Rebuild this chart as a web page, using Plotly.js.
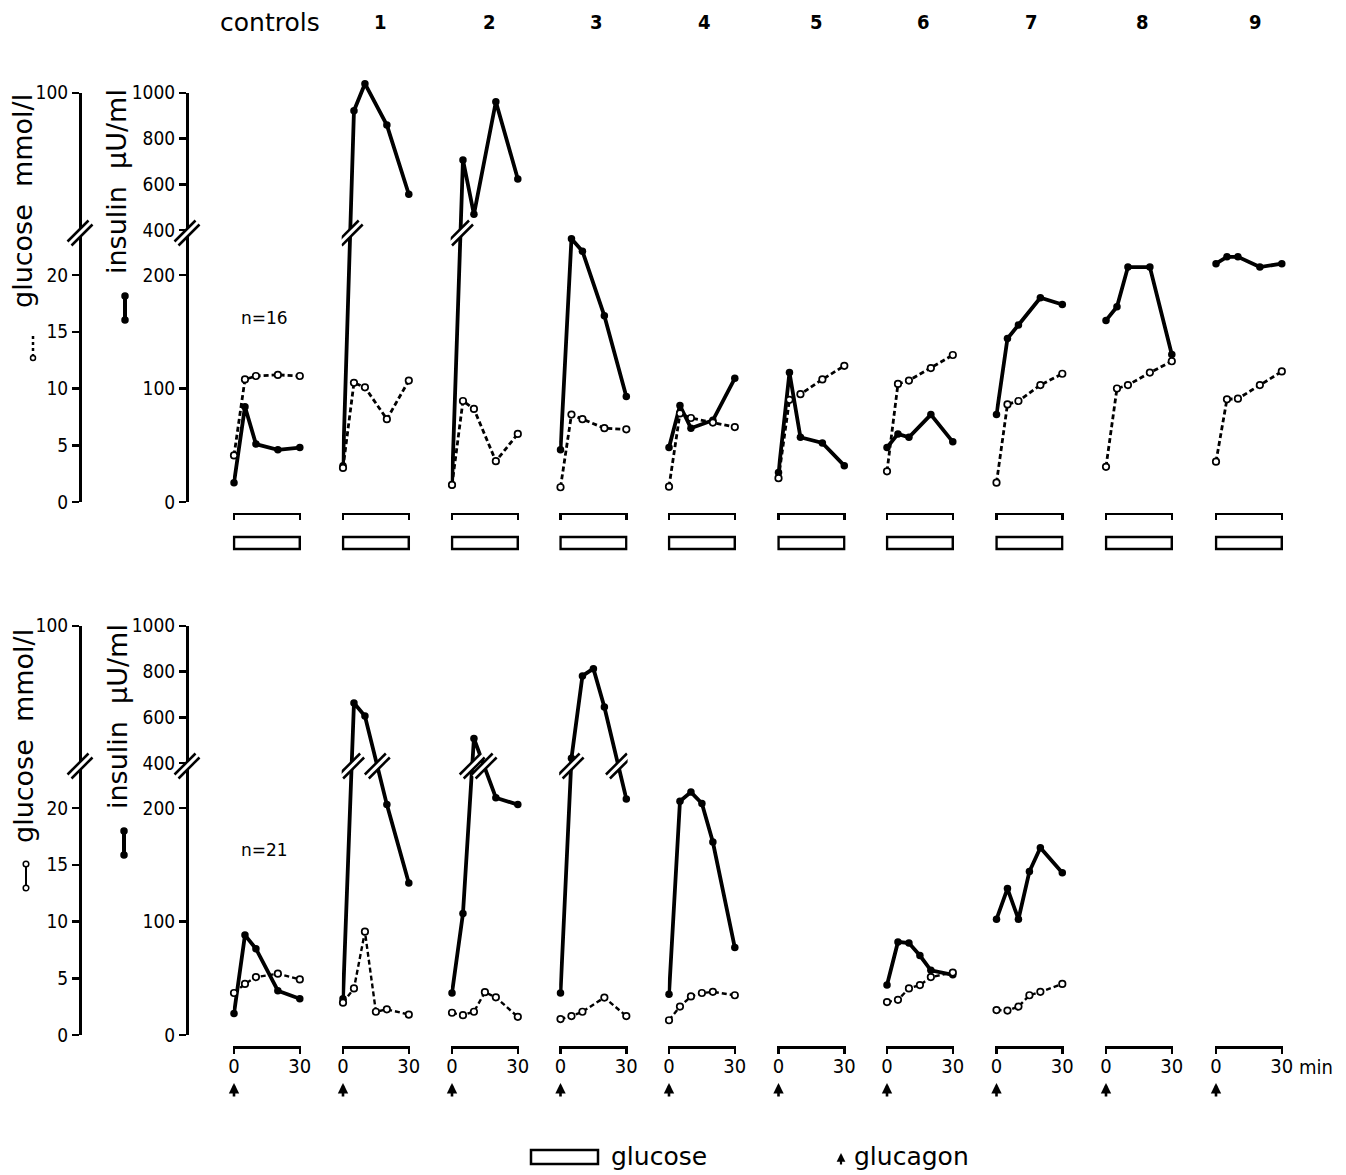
<!DOCTYPE html>
<html>
<head>
<meta charset="utf-8">
<script src="https://cdn.plot.ly/plotly-3.0.1.min.js"></script>
<style>html,body{margin:0;padding:0;background:#fff;}#chart{width:1346px;height:1175px;}</style>
</head>
<body>
<div id="chart"></div>
<script>
// ---------------- labels ----------------
const columnLabels = ['controls', '1', '2', '3', '4', '5', '6', '7', '8', '9'];
const xTickVals = [0, 30];
const xTickText = ['0', '30'];
const insulinTickVals = [0, 100, 200, 400, 600, 800, 1000];
const glucoseTickVals = [0, 5, 10, 15, 20, 100];
const groupSizes = ['n=16', 'n=21'];

// ---------------- upper panel: glucose infusion (n=16) ----------------
const upperTime = [0, 5, 10, 20, 30];
const upperInsulinControls = [17, 84, 51, 46, 48];
const upperInsulin1 = [32, 922, 1040, 859, 557];
const upperInsulin2 = [15, 707, 469, 961, 624];
const upperInsulin3 = [46, 232, 221, 164, 93];
const upperInsulin4 = [48, 85, 65, 72, 109];
const upperInsulin5 = [26, 114, 57, 52, 32];
const upperInsulin6 = [48, 60, 57, 77, 53];
const upperInsulin7 = [77, 144, 156, 180, 174];
const upperInsulin8 = [160, 172, 207, 207, 130];
const upperInsulin9 = [210, 216, 216, 207, 210];

const upperGlucoseControls = [4.1, 10.8, 11.1, 11.2, 11.1];
const upperGlucose1 = [3.0, 10.5, 10.1, 7.3, 10.7];
const upperGlucose2 = [1.5, 8.9, 8.2, 3.6, 6.0];
const upperGlucose3 = [1.3, 7.7, 7.3, 6.5, 6.4];
const upperGlucose4 = [1.35, 7.8, 7.4, 7.0, 6.6];
const upperGlucose5 = [2.1, 9.0, 9.5, 10.8, 12.0];
const upperGlucose6 = [2.7, 10.4, 10.7, 11.8, 12.95];
const upperGlucose7 = [1.7, 8.6, 8.9, 10.3, 11.3];
const upperGlucose8 = [3.1, 10.0, 10.3, 11.4, 12.4];
const upperGlucose9 = [3.55, 9.05, 9.1, 10.3, 11.5];

// ---------------- lower panel: glucagon (n=21) ----------------
const timeA = [0, 5, 10, 20, 30];
const timeB = [0, 5, 10, 15, 20, 30];
const noTime = [];
const noValues = [];

const lowerInsulinControls = [19, 88, 76, 39, 32];
const lowerInsulin1 = [32, 663, 606, 203, 134];
const lowerInsulin2 = [37, 107, 508, 209, 203];
const lowerInsulin3 = [37, 422, 781, 813, 645, 208];
const lowerInsulin4 = [36, 206, 214, 204, 170, 77];
const lowerInsulin6 = [44, 82, 81, 70, 57, 53];
const lowerInsulin7 = [102, 129, 102, 144, 165, 143];

const lowerGlucoseControls = [3.7, 4.5, 5.1, 5.4, 4.9];
const lowerGlucose1 = [2.85, 4.1, 9.1, 2.05, 2.26, 1.8];
const lowerGlucose2 = [1.96, 1.75, 2.05, 3.77, 3.32, 1.6];
const lowerGlucose3 = [1.4, 1.67, 2.05, 3.3, 1.67];
const lowerGlucose4 = [1.3, 2.5, 3.4, 3.7, 3.8, 3.5];
const lowerGlucose6 = [2.9, 3.1, 4.1, 4.4, 5.1, 5.5];
const lowerGlucose7 = [2.2, 2.15, 2.5, 3.5, 3.8, 4.5];

// ---------------- tables built from the arrays ----------------
const upperInsulin = [upperInsulinControls, upperInsulin1, upperInsulin2, upperInsulin3, upperInsulin4,
  upperInsulin5, upperInsulin6, upperInsulin7, upperInsulin8, upperInsulin9];
const upperGlucose = [upperGlucoseControls, upperGlucose1, upperGlucose2, upperGlucose3, upperGlucose4,
  upperGlucose5, upperGlucose6, upperGlucose7, upperGlucose8, upperGlucose9];
const lowerInsulin = [lowerInsulinControls, lowerInsulin1, lowerInsulin2, lowerInsulin3, lowerInsulin4,
  noValues, lowerInsulin6, lowerInsulin7, noValues, noValues];
const lowerInsulinTime = [timeA, timeA, timeA, timeB, timeB, noTime, timeB, timeB, noTime, noTime];
const lowerGlucose = [lowerGlucoseControls, lowerGlucose1, lowerGlucose2, lowerGlucose3, lowerGlucose4,
  noValues, lowerGlucose6, lowerGlucose7, noValues, noValues];
const lowerGlucoseTime = [timeA, timeB, timeB, timeA, timeB, noTime, timeB, timeB, noTime, noTime];

const rows = [
  {insulin: upperInsulin, insulinTime: upperInsulin.map(() => upperTime),
   glucose: upperGlucose, glucoseTime: upperGlucose.map(() => upperTime)},
  {insulin: lowerInsulin, insulinTime: lowerInsulinTime,
   glucose: lowerGlucose, glucoseTime: lowerGlucoseTime}
];

// ---------------- geometry / style ----------------
const W = 1346, H = 1175;
const fx = p => p / W;
const fy = p => (H - p) / H;
const NARROW = '"Liberation Sans Narrow", "DejaVu Sans Condensed", "Liberation Sans", sans-serif';
const WIDE = '"DejaVu Sans", "Liberation Sans", sans-serif';
const BLACK = '#000';

// broken insulin axis: linear 0..236, compressed gap, then 400..1000 at reduced scale
const UPPER_SLOPE = (360.5 - 239.5) / 600;
function disp(v) {
  if (v <= 236) return v;
  if (v < 400) return 236 + (v - 236) / 164 * 3.5;
  return 239.5 + (v - 400) * UPPER_SLOPE;
}
const BREAK_LEVEL = 237;
const PX_PER_UNIT = 1.135;
const rowBase = [502, 1035];          // pixel of value 0
const rowBracket = [513.5, 1047];     // pixel of time axis
const colX0 = [234, 343, 452, 560.5, 669, 778.5, 887, 996.5, 1106, 1216];
const PX_PER_MIN = 65.8 / 30;
const X_RANGE = [-0.6, 30.6];

const yIds = [{data: 'y', ins: 'y2', glu: 'y3'}, {data: 'y4', ins: 'y5', glu: 'y6'}];
const axKey = id => id.replace(/^([xy])/, '$1axis').replace(/axis1$/, 'axis');
const xId = (r, c) => { const n = r * 10 + c + 1; return n === 1 ? 'x' : 'x' + n; };

const layout = {
  width: W, height: H,
  margin: {l: 0, r: 0, t: 0, b: 0},
  paper_bgcolor: '#fff', plot_bgcolor: 'rgba(0,0,0,0)',
  showlegend: false,
  font: {family: NARROW, color: BLACK},
  shapes: [], annotations: []
};

// y axes
rows.forEach((row, r) => {
  const base = rowBase[r];
  const ids = yIds[r];
  layout[axKey(ids.data)] = {
    domain: [fy(base + 12 * PX_PER_UNIT), fy(base - 380 * PX_PER_UNIT)],
    range: [-12, 380], visible: false, fixedrange: true
  };
  const visDomain = [fy(base), fy(base - disp(1000) * PX_PER_UNIT)];
  const common = {
    anchor: 'free', domain: visDomain, showline: true, linecolor: BLACK, linewidth: 2.5,
    ticks: 'outside', ticklen: 7, tickwidth: 2.5, tickcolor: BLACK,
    showgrid: false, zeroline: false, fixedrange: true,
    tickfont: {family: NARROW, size: 19, color: BLACK}
  };
  layout[axKey(ids.ins)] = Object.assign({}, common, {
    position: fx(187), range: [0, disp(1000)],
    tickvals: insulinTickVals.map(disp), ticktext: insulinTickVals.map(String)
  });
  layout[axKey(ids.glu)] = Object.assign({}, common, {
    position: fx(80), range: [0, disp(1000) / 10],
    tickvals: glucoseTickVals.map(g => disp(g * 10) / 10), ticktext: glucoseTickVals.map(String)
  });
});

// x axes
for (let r = 0; r < 2; r++) {
  for (let c = 0; c < 10; c++) {
    const x0 = colX0[c];
    layout[axKey(xId(r, c))] = {
      anchor: 'free', position: fy(rowBracket[r]),
      domain: [fx(x0 + X_RANGE[0] * PX_PER_MIN), fx(x0 + X_RANGE[1] * PX_PER_MIN)],
      range: X_RANGE,
      showline: true, linecolor: BLACK, linewidth: 2.5,
      ticks: 'outside', ticklen: 5, tickwidth: 2.5, tickcolor: BLACK,
      tickvals: xTickVals, ticktext: xTickText,
      showticklabels: r === 1, ticklabelstandoff: -5,
      tickfont: {family: NARROW, size: 20, color: BLACK},
      showgrid: false, zeroline: false, fixedrange: true
    };
  }
}

// break mark "//"
function breakMark(xref, yref, x, y) {
  const common = {xref, yref, xsizemode: 'pixel', ysizemode: 'pixel', xanchor: x, yanchor: y, layer: 'above'};
  return [
    Object.assign({}, common, {type: 'path', path: 'M-8.5,-12.5 L12.5,8.5 L8.5,12.5 L-12.5,-8.5 Z',
      fillcolor: '#fff', line: {width: 0}}),
    Object.assign({}, common, {type: 'line', x0: -8.5, y0: -12.5, x1: 12.5, y1: 8.5, line: {color: BLACK, width: 2.5}}),
    Object.assign({}, common, {type: 'line', x0: -12.5, y0: -8.5, x1: 8.5, y1: 12.5, line: {color: BLACK, width: 2.5}})
  ];
}

// traces
const traces = [];
rows.forEach((row, r) => {
  for (let c = 0; c < 10; c++) {
    const xa = xId(r, c);
    const ti = row.insulinTime[c];
    const dv = row.insulin[c].map(disp);
    traces.push({
      type: 'scatter', mode: 'lines+markers', x: ti, y: dv, xaxis: xa, yaxis: yIds[r].data,
      line: {color: BLACK, width: 3.8}, marker: {color: BLACK, size: 7.5},
      cliponaxis: false, hoverinfo: 'skip'
    });
    traces.push({
      type: 'scatter', mode: 'lines+markers', x: row.glucoseTime[c], y: row.glucose[c],
      xaxis: xa, yaxis: yIds[r].glu,
      line: {color: BLACK, width: r === 0 ? 2.8 : 2.4, dash: '5px,3px'},
      marker: {symbol: 'circle', color: '#fff', size: 6.5, line: {color: BLACK, width: 1.7}},
      cliponaxis: false, hoverinfo: 'skip'
    });
    // break marks where an insulin line crosses the axis break
    for (let i = 1; i < dv.length; i++) {
      const a = dv[i - 1], b = dv[i];
      if ((a - BREAK_LEVEL) * (b - BREAK_LEVEL) < 0) {
        const t = ti[i - 1] + (BREAK_LEVEL - a) / (b - a) * (ti[i] - ti[i - 1]);
        layout.shapes.push(...breakMark(xa, yIds[r].data, t, BREAK_LEVEL));
      }
    }
  }
  // make sure the display axes exist
  traces.push({type: 'scatter', x: [], y: [], xaxis: 'x', yaxis: yIds[r].ins, hoverinfo: 'skip'});
  // axis breaks
  layout.shapes.push(...breakMark('paper', yIds[r].data, fx(187), BREAK_LEVEL));
  layout.shapes.push(...breakMark('paper', yIds[r].data, fx(80), BREAK_LEVEL));
});

function note(x, y, text, font, extra) {
  return Object.assign({xref: 'paper', yref: 'paper', x: fx(x), y: fy(y), text: text, showarrow: false,
    xanchor: 'center', yanchor: 'middle', font: font}, extra || {});
}
function arrowUp(xref, x, yHead, len, width, size) {
  return {xref: xref, yref: 'paper', x: x, y: fy(yHead), ax: 0, ay: len, axref: 'pixel', ayref: 'pixel',
    text: '', showarrow: true, arrowhead: 2, arrowsize: size, arrowwidth: width, arrowcolor: BLACK};
}

// glucose infusion bars (upper panel) and glucagon arrows (lower panel)
for (let c = 0; c < 10; c++) {
  layout.shapes.push({type: 'rect', xref: xId(0, c), yref: 'paper', x0: 0, x1: 30,
    y0: fy(549), y1: fy(537), line: {color: BLACK, width: 2.5}, fillcolor: '#fff'});
  layout.annotations.push(arrowUp(xId(1, c), 0, 1083, 15, 2.6, 0.8));
}

// column headers
const headerX = [270, 380, 489, 596, 704, 817, 923, 1031, 1142, 1255];
columnLabels.forEach((lab, c) => {
  layout.annotations.push(note(headerX[c], 22, c === 0 ? lab : '<b>' + lab + '</b>',
    c === 0 ? {family: WIDE, size: 25} : {family: NARROW, size: 20}));
});

// n labels
layout.annotations.push(note(264, 318, groupSizes[0], {family: WIDE, size: 17}));
layout.annotations.push(note(264, 850, groupSizes[1], {family: WIDE, size: 17}));

// axis titles
const titleY = [{glu: 201, ins: 182}, {glu: 736, ins: 717}];
titleY.forEach(t => {
  layout.annotations.push(note(23, t.glu, 'glucose  mmol/l', {family: WIDE, size: 27}, {textangle: -90}));
  layout.annotations.push(note(117, t.ins, 'insulin  µU/ml', {family: WIDE, size: 27}, {textangle: -90}));
});

// series symbols next to titles
function dot(x, y, r, filled) {
  return {type: 'circle', xref: 'paper', yref: 'paper', xsizemode: 'pixel', ysizemode: 'pixel',
    xanchor: fx(x), yanchor: fy(y), x0: -r, x1: r, y0: -r, y1: r,
    fillcolor: filled ? BLACK : '#fff', line: {color: BLACK, width: 1.5}};
}
function vline(x, ya, yb, w, dash) {
  return {type: 'line', xref: 'paper', yref: 'paper', x0: fx(x), x1: fx(x), y0: fy(ya), y1: fy(yb),
    line: {color: BLACK, width: w, dash: dash || 'solid'}};
}
layout.shapes.push(vline(33, 336, 355, 2.5, '3px,3px'), dot(33, 358, 2.5, false));
layout.shapes.push(vline(125, 296, 320, 4), dot(125, 296, 3, true), dot(125, 320, 3, true));
layout.shapes.push(vline(26, 864, 888, 2), dot(26, 864, 2.8, false), dot(26, 888, 2.8, false));
layout.shapes.push(vline(124, 831, 855, 4), dot(124, 831, 3, true), dot(124, 855, 3, true));

// "min" after the last time label
layout.annotations.push(note(1297, 1067, 'min', {family: NARROW, size: 20}, {xanchor: 'left'}));

// legend at bottom
layout.shapes.push({type: 'rect', xref: 'paper', yref: 'paper', x0: fx(531), x1: fx(598),
  y0: fy(1164), y1: fy(1150), line: {color: BLACK, width: 2.5}, fillcolor: '#fff'});
layout.annotations.push(note(609, 1156, 'glucose', {family: WIDE, size: 25}, {xanchor: 'left'}));
layout.annotations.push(arrowUp('paper', fx(841), 1153, 13, 2.2, 0.8));
layout.annotations.push(note(852, 1156, 'glucagon', {family: WIDE, size: 25}, {xanchor: 'left'}));

Plotly.newPlot('chart', traces, layout, {staticPlot: true, displayModeBar: false});
</script>
</body>
</html>
